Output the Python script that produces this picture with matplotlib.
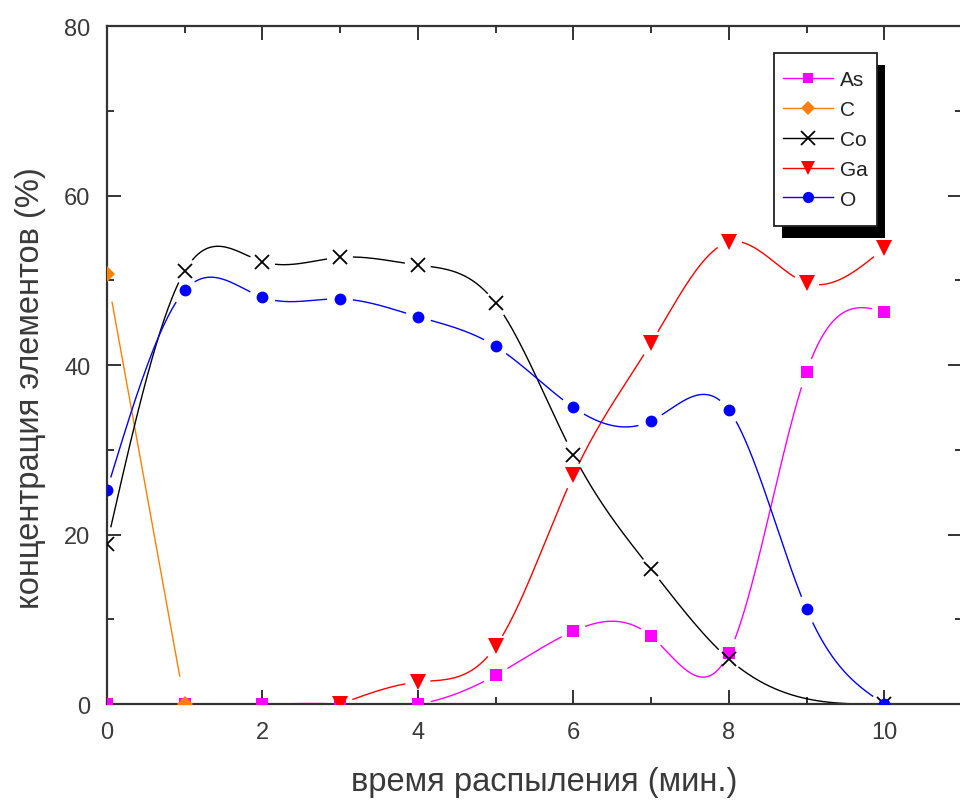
import numpy as np
from matplotlib import pyplot as plt
from matplotlib.patches import Rectangle
from matplotlib.ticker import MultipleLocator

plt.rcParams['font.family'] = ['Liberation Sans', 'DejaVu Sans']

# time of sputtering (min) and element concentrations (%)
x_as = [0, 1, 2, 3, 4, 5, 6, 7, 8, 9, 10]
y_as = [0, 0, 0, 0, 0, 3.4, 8.6, 8.0, 6.0, 39.2, 46.3]

x_c = [0, 1]
y_c = [50.7, 0]

x_co = [0, 1, 2, 3, 4, 5, 6, 7, 8, 10]
y_co = [18.9, 51.1, 52.2, 52.7, 51.8, 47.3, 29.4, 15.9, 5.3, 0]

x_ga = [3, 4, 5, 6, 7, 8, 9, 10]
y_ga = [0, 2.6, 6.8, 27.0, 42.6, 54.5, 49.7, 53.8]

x_o = [0, 1, 2, 3, 4, 5, 6, 7, 8, 9, 10]
y_o = [25.3, 48.8, 48.0, 47.8, 45.7, 42.2, 35.0, 33.4, 34.7, 11.2, 0]

# name, x, y, colour, marker, marker size, gap around markers (px)
series = [
    ('As', x_as, y_as, '#ff00ff', 's', 8, 13),
    ('C', x_c, y_c, '#ff8000', 'D', 8, 28),
    ('Co', x_co, y_co, 'black', 'x', 10, 13),
    ('Ga', x_ga, y_ga, '#ff0000', 'v', 11, 13),
    ('O', x_o, y_o, '#0000ff', 'o', 8.5, 13),
]


def natural_spline(x, y, n=600):
    # natural cubic spline through the data points, used only to draw the line
    x = np.asarray(x, float)
    y = np.asarray(y, float)
    if len(x) < 3:
        xs = np.linspace(x[0], x[-1], n)
        return xs, np.interp(xs, x, y)
    h = np.diff(x)
    k = len(x)
    A = np.zeros((k, k))
    b = np.zeros(k)
    A[0, 0] = A[-1, -1] = 1
    for i in range(1, k - 1):
        A[i, i - 1] = h[i - 1]
        A[i, i] = 2 * (h[i - 1] + h[i])
        A[i, i + 1] = h[i]
        b[i] = 6 * ((y[i + 1] - y[i]) / h[i] - (y[i] - y[i - 1]) / h[i - 1])
    M = np.linalg.solve(A, b)
    xs = np.linspace(x[0], x[-1], n)
    idx = np.clip(np.searchsorted(x, xs) - 1, 0, k - 2)
    x0, x1 = x[idx], x[idx + 1]
    hh = x1 - x0
    t0 = x1 - xs
    t1 = xs - x0
    ys = (M[idx] * t0 ** 3 / (6 * hh) + M[idx + 1] * t1 ** 3 / (6 * hh)
          + (y[idx] / hh - M[idx] * hh / 6) * t0
          + (y[idx + 1] / hh - M[idx + 1] * hh / 6) * t1)
    return xs, ys


fig = plt.figure(figsize=(9.6, 8.04), dpi=100)
ax = fig.add_axes([0.1115, 0.1231, 0.8906, 0.8433])
ax.set_xlim(0, 11)
ax.set_ylim(0, 80)
fig.canvas.draw()

# gaps in the lines around markers (Origin style)
for name, xv, yv, col, mk, ms, gap_px in series:
    xs, ys = natural_spline(xv, yv)
    pts = ax.transData.transform(np.column_stack([xs, ys]))
    mpts = ax.transData.transform(np.column_stack([xv, yv]))
    d = np.min(np.hypot(pts[:, None, 0] - mpts[None, :, 0],
                        pts[:, None, 1] - mpts[None, :, 1]), axis=1)
    ys = np.where(d < gap_px, np.nan, ys)
    ax.plot(xs, ys, '-', color=col, lw=1.0, zorder=2)
    ax.plot(xv, yv, linestyle='none', marker=mk, color=col, ms=ms,
            mew=1.3 if mk == 'x' else 0, zorder=3)

# legend handles
handles = [ax.plot([], [], '-', color=col, lw=1.0, marker=mk, ms=ms * 0.95,
                   mew=1.3 if mk == 'x' else 0)[0]
           for name, xv, yv, col, mk, ms, gap_px in series]
leg = ax.legend(handles, [s[0] for s in series], loc='upper left',
                bbox_to_anchor=(0.7842, 0.9423), fontsize=15,
                handlelength=2.4, labelspacing=0.52, borderpad=0.25,
                handletextpad=0.35, frameon=False, borderaxespad=0)
leg.set_zorder(6)
for t in leg.get_texts():
    t.set_color('#222222')

# Origin-like legend frame with a solid black drop shadow
fig.canvas.draw()
bb = leg.get_window_extent()
px_w = 0.8906 * 960
px_h = 0.8433 * 804
inv = ax.transAxes.inverted()
x0, y0 = inv.transform((bb.x0 - 4, bb.y0 - 12))
x1, y1 = inv.transform((bb.x1 + 4, bb.y1 + 12))
ax.add_patch(Rectangle((x0 + 8 / px_w, y0 - 12 / px_h), x1 - x0, y1 - y0,
                       transform=ax.transAxes, facecolor='black',
                       edgecolor='none', zorder=5, clip_on=False))
ax.add_patch(Rectangle((x0, y0), x1 - x0, y1 - y0,
                       transform=ax.transAxes, facecolor='white',
                       edgecolor='#222222', lw=1.3, zorder=5.5, clip_on=False))

ax.xaxis.set_major_locator(MultipleLocator(2))
ax.xaxis.set_minor_locator(MultipleLocator(1))
ax.yaxis.set_major_locator(MultipleLocator(20))
ax.yaxis.set_minor_locator(MultipleLocator(10))
ax.tick_params(which='both', direction='in', top=True, right=True,
               colors='#333333', width=1.4, labelsize=17)
ax.tick_params(which='major', length=10, pad=12)
ax.tick_params(which='minor', length=5)
for lab in ax.get_xticklabels() + ax.get_yticklabels():
    lab.set_color('#3a3a3a')
for sp in ax.spines.values():
    sp.set_color('#333333')
    sp.set_linewidth(1.6)

ax.set_xlabel('время распыления (мин.)', fontsize=23.5, color='#3a3a3a', va='center')
ax.xaxis.set_label_coords(0.511, -0.115)
ax.set_ylabel('концентрация элементов (%)', fontsize=23.5, color='#3a3a3a', va='center')
ax.yaxis.set_label_coords(-0.090, 0.4676)

plt.savefig('out.png', dpi=100)
